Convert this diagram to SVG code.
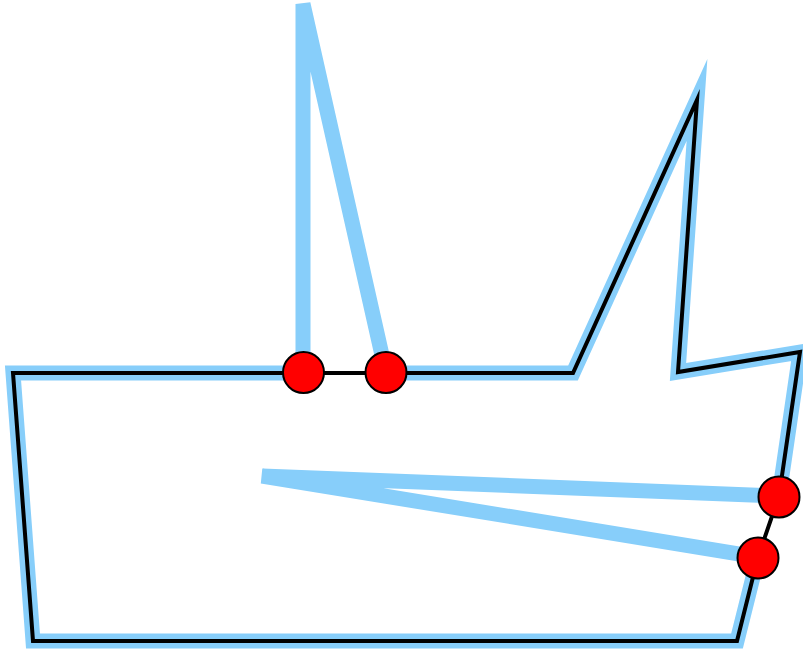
<svg xmlns="http://www.w3.org/2000/svg" width="803" height="652" viewBox="0 0 803 652">
  <style>
    .halo { fill: none; stroke: #87CEFA; stroke-width: 15; stroke-linejoin: miter; stroke-miterlimit: 7; }
    .outline { fill: none; stroke: #000000; stroke-width: 4; stroke-linejoin: miter; stroke-miterlimit: 7; }
    .pt { fill: #FF0000; stroke: #000000; stroke-width: 2; }
  </style>
  <rect x="0" y="0" width="803" height="652" fill="#FFFFFF"/>
  <g id="halo">
    <path class="halo" d="M303,373 L303,4 L386,373 L573,373 L697,100 L678,372 L800,352 L779,496 L262,476 L758,557 L737,641 L33,641 L13,373 Z"/>
  </g>
  <g id="outline">
    <path class="outline" d="M13,373 L573,373 L697,100 L678,372 L800,352 L779,496 L758,557 L737,641 L33,641 Z"/>
  </g>
  <g id="points">
    <circle id="p1" class="pt" cx="303.5" cy="372.5" r="20.5"/>
    <circle id="p2" class="pt" cx="386" cy="372.5" r="20.5"/>
    <circle id="p3" class="pt" cx="779" cy="497" r="20.5"/>
    <circle id="p4" class="pt" cx="758" cy="558" r="20.5"/>
  </g>
</svg>
